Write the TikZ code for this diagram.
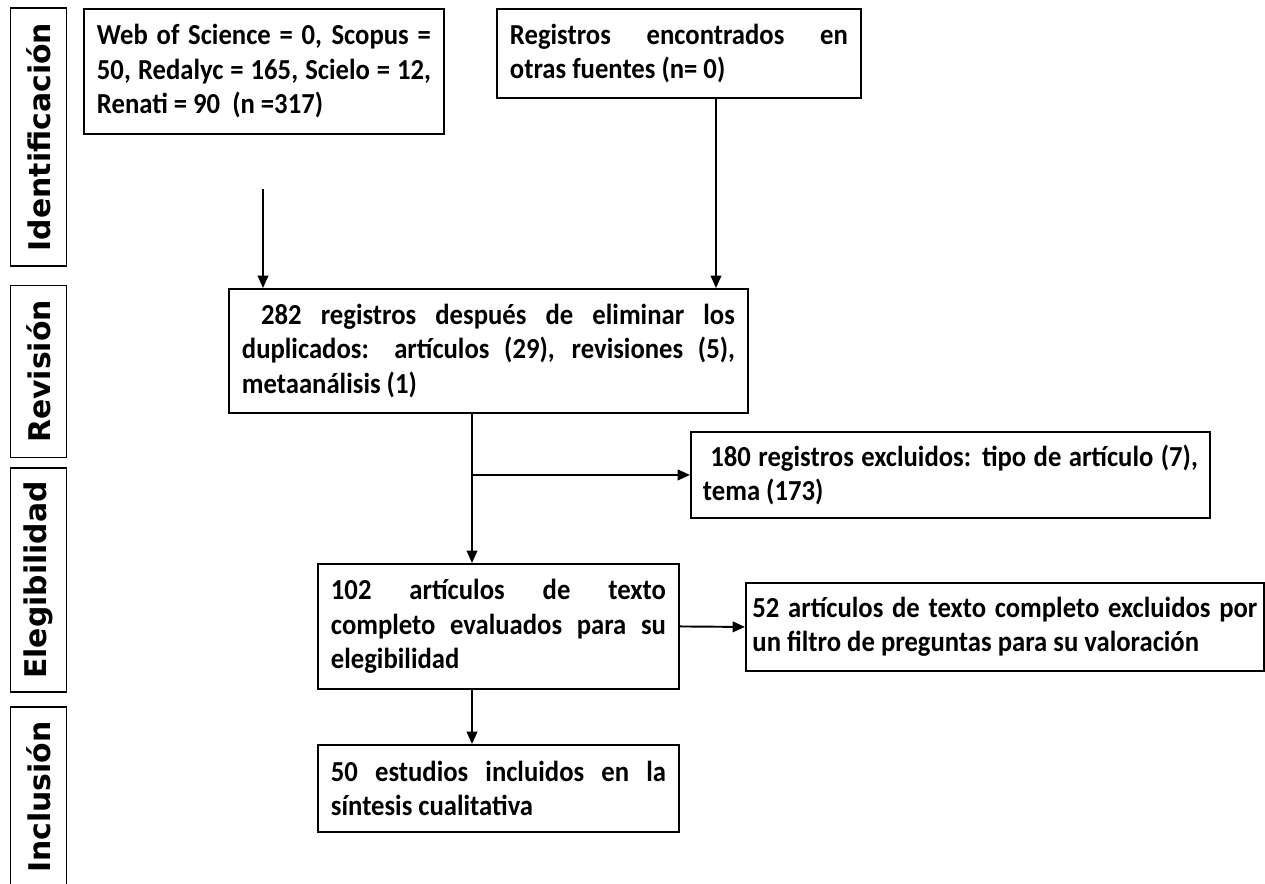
\documentclass[tikz,border=0pt]{standalone}
\usepackage{fontspec}
\setmainfont[FakeStretch=0.92]{Carlito}
\newfontfamily\etiqfont{DejaVu Sans}
\usetikzlibrary{arrows.meta}
\hyphenpenalty=10000
\exhyphenpenalty=10000
\tolerance=9999

\tikzset{
  caja/.style={draw, line width=1.1pt, anchor=north west, align=justify,
    inner xsep=0.26cm, inner ysep=0pt,
    font=\fontsize{16.5}{19.6}\selectfont\bfseries},
  etapa/.style={draw, line width=1.1pt, rotate=90, inner sep=0pt,
    minimum height=1.12cm, font=\etiqfont\fontsize{17}{19}\selectfont\bfseries},
  flecha/.style={line width=1.1pt, -{Triangle[length=7pt,width=6pt]}}
}

\begin{document}
\begin{tikzpicture}[x=0.02cm,y=-0.02cm]
  \useasboundingbox (0,0) rectangle (1265,884);

  %Etapas
  \node[etapa, minimum width=5.16cm] (ident) at (38.5,137) {Identificación};
  \node[etapa, minimum width=3.44cm] (revis) at (38.5,371.5) {Revisión};
  \node[etapa, minimum width=4.48cm] (elegi) at (38.5,580) {Elegibilidad};
  \node[etapa, minimum width=3.6cm] (inclu) at (38.5,797) {Inclusión};

  %Cajas
  \node[caja, text width=6.68cm, minimum height=2.5cm] (bases) at (83,8)
    {Web of Science = 0, Scopus =\linebreak 50, Redalyc = 165, Scielo = 12,\linebreak Renati = 90~ (n =317)};
  \node[caja, text width=6.76cm, minimum height=1.78cm] (otras) at (496,8)
    {Registros encontrados en\linebreak otras fuentes (n= 0)};
  \node[caja, text width=9.86cm, minimum height=2.48cm] (duplic) at (228,288)
    {\ 282 registros después de eliminar los\linebreak duplicados: artículos (29), revisiones (5),\linebreak metaanálisis (1)};
  \node[caja, text width=9.9cm, inner xsep=0.24cm, minimum height=1.72cm] (excl) at (690,431)
    {\ 180 registros excluidos: tipo de artículo (7),\linebreak tema (173)};
  \node[caja, text width=6.7cm, minimum height=2.5cm] (evalua) at (317,563)
    {102 artículos de texto\linebreak completo evaluados para su\linebreak elegibilidad};
  \node[caja, text width=10.1cm, inner xsep=0.13cm, minimum height=1.76cm] (filtro) at (745,582)
    {52 artículos de texto completo excluidos por\linebreak un filtro de preguntas para su valoración};
  \node[caja, text width=6.7cm, minimum height=1.74cm] (inclui) at (317,744)
    {50 estudios incluidos en la\linebreak síntesis cualitativa};

  %Flechas
  \coordinate (ini) at (263,189);
  \coordinate (eje2) at (716,0);
  \coordinate (eje) at (472,0);
  \draw[flecha] (ini) -- (ini |- duplic.north);
  \draw[flecha] (otras.south -| eje2) -- (duplic.north -| eje2);
  \draw[flecha] (duplic.south -| eje) -- (evalua.north -| eje);
  \draw[flecha] (excl.west -| eje) -- (excl.west);
  \draw[flecha] (evalua.east) -- (filtro.west);
  \draw[flecha] (evalua.south -| eje) -- (inclui.north -| eje);
\end{tikzpicture}
\end{document}
